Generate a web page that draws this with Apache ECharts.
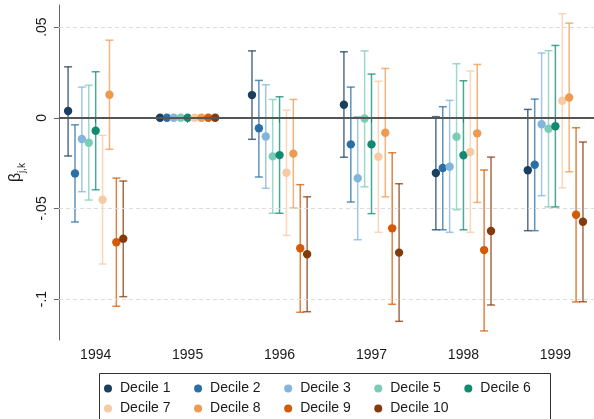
<!DOCTYPE html>
<html>
<head>
<meta charset="utf-8">
<script src="https://cdn.jsdelivr.net/npm/echarts@6/dist/echarts.min.js"></script>
<style>
html,body{margin:0;padding:0;background:#fff;}
#chart{width:594px;height:419px;}
</style>
</head>
<body>
<div id="chart"></div>
<script>
const years = [1994, 1995, 1996, 1997, 1998, 1999];
const yTicks = [-0.1, -0.05, 0, 0.05];
const gridValues = [0.05, -0.05, -0.1];
const decileNames = ['Decile 1', 'Decile 2', 'Decile 3', 'Decile 5', 'Decile 6', 'Decile 7', 'Decile 8', 'Decile 9', 'Decile 10'];
const decileColors = ['#1b3f5e', '#2a6fa5', '#82b4dc', '#7accb7', '#128a70', '#f6caa3', '#ee9a50', '#d45a05', '#853a0c'];

// point estimates per decile (1994..1999); 1995 is the base year
const d1Est  = [0.0037, 0, 0.0125, 0.0072, -0.0305, -0.0290];
const d1Lo   = [-0.0211, null, -0.0119, -0.0218, -0.0618, -0.0623];
const d1Hi   = [0.0281, null, 0.0369, 0.0364, 0.0006, 0.0046];

const d2Est  = [-0.0307, 0, -0.0058, -0.0147, -0.0277, -0.0259];
const d2Lo   = [-0.0575, null, -0.0327, -0.0465, -0.0618, -0.0623];
const d2Hi   = [-0.0039, null, 0.0206, 0.0169, 0.0061, 0.0103];

const d3Est  = [-0.0117, 0, -0.0103, -0.0334, -0.0270, -0.0036];
const d3Lo   = [-0.0408, null, -0.0389, -0.0673, -0.0632, -0.0430];
const d3Hi   = [0.0169, null, 0.0182, 0.0006, 0.0096, 0.0357];

const d5Est  = [-0.0138, 0, -0.0213, -0.0004, -0.0105, -0.0061];
const d5Lo   = [-0.0454, null, -0.0527, -0.0381, -0.0507, -0.0492];
const d5Hi   = [0.0179, null, 0.0101, 0.0369, 0.0298, 0.0370];

const d6Est  = [-0.0072, 0, -0.0206, -0.0147, -0.0207, -0.0047];
const d6Lo   = [-0.0397, null, -0.0527, -0.0529, -0.0618, -0.0492];
const d6Hi   = [0.0254, null, 0.0116, 0.0241, 0.0204, 0.0399];

const d7Est  = [-0.0452, 0, -0.0303, -0.0215, -0.0189, 0.0094];
const d7Lo   = [-0.0807, null, -0.0649, -0.0632, -0.0632, -0.0386];
const d7Hi   = [-0.0097, null, 0.0042, 0.0201, 0.0258, 0.0574];

const d8Est  = [0.0127, 0, -0.0198, -0.0083, -0.0086, 0.0112];
const d8Lo   = [-0.0174, null, -0.0498, -0.0436, -0.0467, -0.0298];
const d8Hi   = [0.0428, null, 0.0101, 0.0272, 0.0294, 0.0522];

const d9Est  = [-0.0687, 0, -0.0720, -0.0610, -0.0730, -0.0535];
const d9Lo   = [-0.1040, null, -0.1073, -0.1029, -0.1176, -0.1016];
const d9Hi   = [-0.0333, null, -0.0369, -0.0193, -0.0288, -0.0055];

const d10Est = [-0.0667, 0, -0.0753, -0.0744, -0.0625, -0.0574];
const d10Lo  = [-0.0987, null, -0.1070, -0.1123, -0.1033, -0.1015];
const d10Hi  = [-0.0349, null, -0.0436, -0.0364, -0.0217, -0.0134];

const estimates = [d1Est, d2Est, d3Est, d5Est, d6Est, d7Est, d8Est, d9Est, d10Est];
const lows = [d1Lo, d2Lo, d3Lo, d5Lo, d6Lo, d7Lo, d8Lo, d9Lo, d10Lo];
const highs = [d1Hi, d2Hi, d3Hi, d5Hi, d6Hi, d7Hi, d8Hi, d9Hi, d10Hi];

const FONT = 'Liberation Sans, Arial, Helvetica, sans-serif';
const step = 0.075;

function makeRender(idx, color) {
  const off = (idx - 4) * step;
  return function (params, api) {
    const x = api.value(0) + off;
    const est = api.value(1);
    const lo = api.value(2);
    const hi = api.value(3);
    const children = [];
    if (!isNaN(lo) && !isNaN(hi) && lo !== null && hi !== null) {
      const pl = api.coord([x, lo]);
      const ph = api.coord([x, hi]);
      const ls = { stroke: color, lineWidth: 1.5, opacity: 0.75 };
      children.push({ type: 'line', shape: { x1: pl[0], y1: pl[1], x2: ph[0], y2: ph[1] }, style: ls });
      children.push({ type: 'line', shape: { x1: pl[0] - 4, y1: pl[1], x2: pl[0] + 4, y2: pl[1] }, style: ls });
      children.push({ type: 'line', shape: { x1: ph[0] - 4, y1: ph[1], x2: ph[0] + 4, y2: ph[1] }, style: ls });
    }
    const p = api.coord([x, est]);
    children.push({ type: 'circle', shape: { cx: p[0], cy: p[1], r: 4.2 }, style: { fill: color } });
    return { type: 'group', children: children };
  };
}

const series = [{
  type: 'line',
  data: [],
  silent: true,
  z: 1,
  markLine: {
    silent: true,
    symbol: 'none',
    label: { show: false },
    data: gridValues.map(v => ({ yAxis: v, lineStyle: { color: '#dcdcdc', type: [4, 3], width: 1 } }))
      .concat([{ yAxis: 0, lineStyle: { color: '#555', type: 'solid', width: 2 } }])
  }
}];

decileNames.forEach((name, i) => {
  const data = years.map((y, k) => [y, estimates[i][k], lows[i][k] === null ? NaN : lows[i][k], highs[i][k] === null ? NaN : highs[i][k]]);
  series.push({
    type: 'custom',
    name: name,
    z: 3,
    itemStyle: { color: decileColors[i] },
    renderItem: makeRender(i, decileColors[i]),
    encode: { x: 0, y: [1, 2, 3] },
    data: data
  });
});

const fmtY = v => {
  if (Math.abs(v) < 1e-9) return '0';
  return String(+v.toFixed(2)).replace('0.', '.');
};

const legendCommon = {
  orient: 'horizontal',
  left: 104,
  itemWidth: 8,
  itemHeight: 8,
  itemGap: 23.5,
  icon: 'circle',
  padding: 0,
  textStyle: { fontFamily: FONT, fontSize: 14, color: '#1a1a1a', padding: [0, 0, 0, 3] },
  selectedMode: false
};

const option = {
  backgroundColor: '#fff',
  animation: false,
  textStyle: { fontFamily: FONT },
  grid: { left: 57, right: 0, top: 5, bottom: 79 },
  xAxis: {
    type: 'value',
    min: 1993.6,
    max: 1999.42,
    axisLine: { show: true, lineStyle: { color: '#666', width: 1 } },
    axisTick: { show: true, length: 5, customValues: years, lineStyle: { color: '#666' } },
    axisLabel: { customValues: years, formatter: v => String(v), fontSize: 14, color: '#1a1a1a', margin: 8, fontFamily: FONT },
    splitLine: { show: false },
    minorSplitLine: { show: false }
  },
  yAxis: {
    type: 'value',
    min: -0.1226,
    max: 0.0622,
    name: '{a|β}{b|j,k}',
    nameLocation: 'middle',
    nameGap: 27,
    nameRotate: 90,
    nameTextStyle: {
      rich: {
        a: { fontSize: 16, fontFamily: FONT, color: '#1a1a1a', lineHeight: 18, verticalAlign: 'bottom' },
        b: { fontSize: 10, fontFamily: FONT, color: '#1a1a1a', lineHeight: 18, verticalAlign: 'bottom', padding: [0, 0, -3, 0] }
      }
    },
    axisLine: { show: true, lineStyle: { color: '#666', width: 1 } },
    axisTick: { show: true, length: 5, customValues: yTicks, lineStyle: { color: '#666' } },
    axisLabel: { customValues: yTicks, formatter: fmtY, rotate: 90, fontSize: 14, color: '#1a1a1a', margin: 10, fontFamily: FONT },
    splitLine: { show: false }
  },
  legend: [
    Object.assign({}, legendCommon, { top: 381.5, data: decileNames.slice(0, 5) }),
    Object.assign({}, legendCommon, { top: 401.5, data: decileNames.slice(5) })
  ],
  graphic: [{
    type: 'rect',
    shape: { x: 99.5, y: 373.5, width: 451, height: 60 },
    style: { fill: 'none', stroke: '#333', lineWidth: 1 },
    silent: true,
    z: 10
  }],
  series: series
};

const chart = echarts.init(document.getElementById('chart'), null, { renderer: 'canvas' });
chart.setOption(option);
</script>
</body>
</html>
